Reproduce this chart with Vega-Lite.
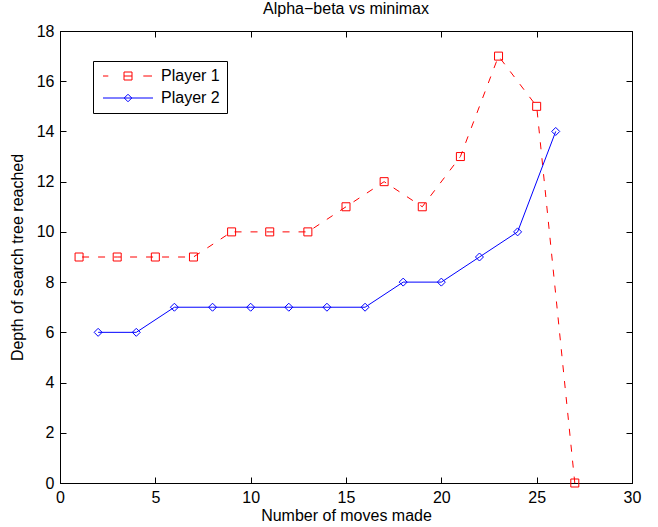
{
  "$schema": "https://vega.github.io/schema/vega-lite/v6.json",
  "width": 572,
  "height": 452,
  "autosize": {"type": "none"},
  "padding": {"left": 60, "top": 31, "right": 26, "bottom": 44},
  "background": "#ffffff",
  "title": {"text": "Alpha−beta vs minimax", "font": "Liberation Sans", "fontSize": 16, "fontWeight": "normal", "color": "#000000", "offset": 6},
  "data": {"values": [
    {"series": "Player 1", "moves": 1, "depth": 9},
    {"series": "Player 1", "moves": 3, "depth": 9},
    {"series": "Player 1", "moves": 5, "depth": 9},
    {"series": "Player 1", "moves": 7, "depth": 9},
    {"series": "Player 1", "moves": 9, "depth": 10},
    {"series": "Player 1", "moves": 11, "depth": 10},
    {"series": "Player 1", "moves": 13, "depth": 10},
    {"series": "Player 1", "moves": 15, "depth": 11},
    {"series": "Player 1", "moves": 17, "depth": 12},
    {"series": "Player 1", "moves": 19, "depth": 11},
    {"series": "Player 1", "moves": 21, "depth": 13},
    {"series": "Player 1", "moves": 23, "depth": 17},
    {"series": "Player 1", "moves": 25, "depth": 15},
    {"series": "Player 1", "moves": 27, "depth": 0},
    {"series": "Player 2", "moves": 2, "depth": 6},
    {"series": "Player 2", "moves": 4, "depth": 6},
    {"series": "Player 2", "moves": 6, "depth": 7},
    {"series": "Player 2", "moves": 8, "depth": 7},
    {"series": "Player 2", "moves": 10, "depth": 7},
    {"series": "Player 2", "moves": 12, "depth": 7},
    {"series": "Player 2", "moves": 14, "depth": 7},
    {"series": "Player 2", "moves": 16, "depth": 7},
    {"series": "Player 2", "moves": 18, "depth": 8},
    {"series": "Player 2", "moves": 20, "depth": 8},
    {"series": "Player 2", "moves": 22, "depth": 9},
    {"series": "Player 2", "moves": 24, "depth": 10},
    {"series": "Player 2", "moves": 26, "depth": 14}
  ]},
  "resolve": {"axis": {"x": "independent", "y": "independent"}},
  "layer": [
    {
      "transform": [{"filter": "datum.series == 'Player 1'"}],
      "mark": {"type": "line", "color": "#ff0000", "strokeWidth": 1, "strokeDash": [7, 9], "strokeDashOffset": 13, "clip": false},
      "encoding": {
        "x": {"field": "moves", "type": "quantitative", "scale": {"domain": [0, 30], "nice": false, "zero": false},
          "axis": {"orient": "bottom", "values": [0, 5, 10, 15, 20, 25, 30], "title": "Number of moves made", "grid": false,
            "tickSize": -6, "tickColor": "#000", "domainColor": "#000", "labelColor": "#000", "labelFont": "Liberation Sans", "labelFontSize": 16,
            "labelPadding": 12, "labelFlush": false, "labelOverlap": false, "titleFont": "Liberation Sans", "titleFontSize": 16, "titleFontWeight": "normal", "titleColor": "#000", "titlePadding": 2}},
        "y": {"field": "depth", "type": "quantitative", "scale": {"domain": [0, 18], "nice": false, "zero": false},
          "axis": {"orient": "left", "values": [0, 2, 4, 6, 8, 10, 12, 14, 16, 18], "title": "Depth of search tree reached", "grid": false,
            "tickSize": -6, "tickColor": "#000", "domainColor": "#000", "labelColor": "#000", "labelFont": "Liberation Sans", "labelFontSize": 16,
            "labelPadding": 12, "labelFlush": false, "labelOverlap": false, "titleFont": "Liberation Sans", "titleFontSize": 16, "titleFontWeight": "normal", "titleColor": "#000", "titlePadding": 11}}
      }
    },
    {
      "transform": [{"filter": "datum.series == 'Player 1'"}],
      "mark": {"type": "point", "shape": "square", "size": 64, "filled": false, "color": "#ff0000", "strokeWidth": 1, "opacity": 1, "clip": false},
      "encoding": {
        "x": {"field": "moves", "type": "quantitative", "axis": null},
        "y": {"field": "depth", "type": "quantitative", "axis": null}
      }
    },
    {
      "transform": [{"filter": "datum.series == 'Player 2'"}],
      "mark": {"type": "line", "color": "#0000ff", "strokeWidth": 1},
      "encoding": {
        "x": {"field": "moves", "type": "quantitative", "axis": null},
        "y": {"field": "depth", "type": "quantitative", "axis": null}
      }
    },
    {
      "transform": [{"filter": "datum.series == 'Player 2'"}],
      "mark": {"type": "point", "shape": "diamond", "size": 64, "filled": false, "color": "#0000ff", "strokeWidth": 1, "opacity": 1},
      "encoding": {
        "x": {"field": "moves", "type": "quantitative", "axis": null},
        "y": {"field": "depth", "type": "quantitative", "axis": null}
      }
    },
    {
      "transform": [{"filter": "datum.moves < 0"}],
      "mark": {"type": "point", "filled": false, "strokeWidth": 1, "opacity": 1, "size": 100},
      "encoding": {
        "x": {"field": "moves", "type": "quantitative",
          "axis": {"orient": "top", "values": [0, 5, 10, 15, 20, 25, 30], "labels": false, "title": null, "grid": false, "tickSize": -6, "tickColor": "#000", "domainColor": "#000"}},
        "y": {"field": "depth", "type": "quantitative",
          "axis": {"orient": "right", "values": [0, 2, 4, 6, 8, 10, 12, 14, 16, 18], "labels": false, "title": null, "grid": false, "tickSize": -6, "tickColor": "#000", "domainColor": "#000"}},
        "color": {"field": "series", "type": "nominal",
          "scale": {"domain": ["Player 1", "Player 2"], "range": ["#ff0000", "#0000ff"]},
          "legend": {"orient": "none", "legendX": 33, "legendY": 30, "title": null}},
        "shape": {"field": "series", "type": "nominal",
          "scale": {"domain": ["Player 1", "Player 2"], "range": ["M-5,0H-3.94M-0.8,-0.8H0.8V0.8H-0.8ZM-0.8,0H0.8M3.06,0H4.8", "M-5,0H5M0,-0.75L0.75,0L0,0.75L-0.75,0Z"]},
          "legend": {"orient": "none", "legendX": 33, "legendY": 30, "title": null}}
      }
    }
  ],
  "config": {
    "view": {"stroke": "#000000", "strokeWidth": 1},
    "legend": {
      "strokeColor": "#000000", "fillColor": "#ffffff", "padding": 7,
      "symbolOffset": 20, "labelOffset": 25, "rowPadding": 6,
      "labelFont": "Liberation Sans", "labelFontSize": 16, "labelColor": "#000000",
      "symbolSize": 100, "symbolStrokeWidth": 1, "symbolOpacity": 1, "symbolFillColor": "transparent", "cornerRadius": 0
    }
  }
}
